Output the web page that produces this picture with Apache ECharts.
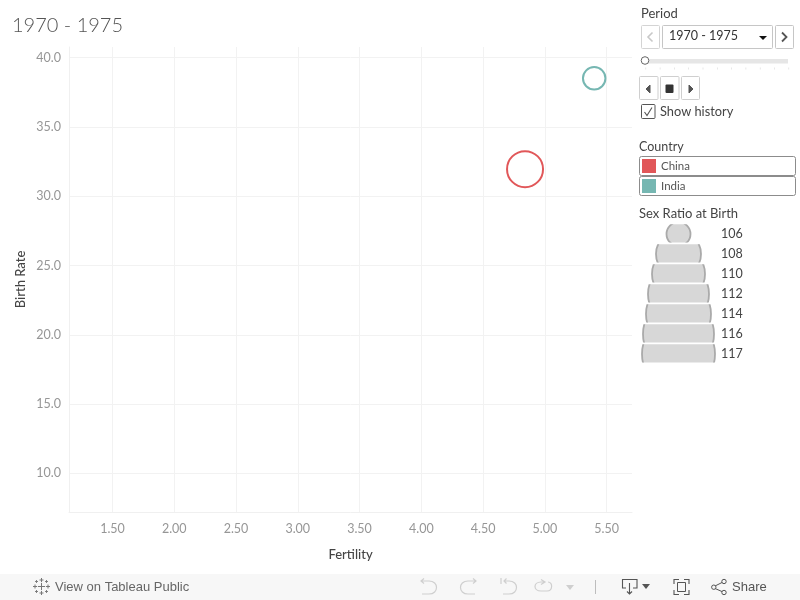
<!DOCTYPE html>
<html><head><meta charset="utf-8">
<style>html,body{margin:0;padding:0;background:#fff}#c{width:800px;height:600px}</style>
<script src="https://cdn.jsdelivr.net/npm/echarts@6/dist/echarts.min.js"></script>
</head><body><div id="c"></div>
<script>
const title = '1970 - 1975';
const countries = ['China', 'India'];
const fertility = [4.84, 5.40];
const birthRate = [31.95, 38.5];
const sexRatioLevels = ['106', '108', '110', '112', '114', '116', '117'];
const xTicks = [1.5, 2, 2.5, 3, 3.5, 4, 4.5, 5, 5.5];
const yTicks = [10, 15, 20, 25, 30, 35, 40];

const colors = ['#e15759', '#76b7b2'];
const markSizes = [36, 22.5];
const legendSizes = [24, 45, 53, 61, 65, 71, 73];
const F = 'Lato, "Open Sans", sans-serif';
const FF = '"Liberation Sans", Arial, sans-serif';

const chart = echarts.init(document.getElementById('c'), null, {renderer: 'canvas', width: 800, height: 600});

const grids = [{left: 69, right: 168, top: 47, bottom: 88}, {left: 630, width: 97, top: 224, height: 140}];
const xAxes = [{
  type: 'value', min: 1.148, max: 5.706, name: 'Fertility', nameLocation: 'middle', nameGap: 36,
  nameTextStyle: {fontFamily: F, fontSize: 13, color: '#444', fontWeight: 500},
  axisLine: {show: true, lineStyle: {color: '#f0f0f0'}},
  axisTick: {show: false, customValues: xTicks},
  axisLabel: {customValues: xTicks, color: '#969696', fontFamily: F, fontSize: 12.5, margin: 10, formatter: v => v.toFixed(2)},
  splitLine: {show: true, lineStyle: {color: '#f2f2f2', width: 1}}
}, {type: 'value', gridIndex: 1, min: -1, max: 1, show: false}];
const yAxes = [{
  type: 'value', min: 7.22, max: 40.76, name: 'Birth Rate', nameLocation: 'middle', nameGap: 42, nameMoveOverlap: false,
  nameTextStyle: {fontFamily: F, fontSize: 13, color: '#444', fontWeight: 500},
  axisLine: {show: true, lineStyle: {color: '#f0f0f0'}},
  axisTick: {show: false, customValues: yTicks},
  axisLabel: {customValues: yTicks, color: '#969696', fontFamily: F, fontSize: 12.5, margin: 8, formatter: v => v.toFixed(1)},
  splitLine: {show: true, lineStyle: {color: '#f2f2f2', width: 1}}
}, {type: 'category', gridIndex: 1, inverse: true, data: sexRatioLevels, show: false}];
const series = [{
  type: 'scatter', xAxisIndex: 0, yAxisIndex: 0,
  data: countries.map((c, i) => ({
    name: c, value: [fertility[i], birthRate[i]], symbolSize: markSizes[i],
    itemStyle: {color: 'rgba(0,0,0,0)', borderColor: colors[i], borderWidth: 2, opacity: 1}
  }))
}, {
  // Size legend: circles cropped to their legend row
  type: 'custom', xAxisIndex: 1, yAxisIndex: 1, silent: true, clip: false,
  data: sexRatioLevels.map(lv => [0, lv]),
  renderItem: (params, api) => {
    const [cx, cy] = api.coord([0, sexRatioLevels[params.dataIndex]]);
    const r = legendSizes[params.dataIndex] / 2;
    return {
      type: 'circle',
      shape: {cx, cy, r},
      style: {fill: '#d7d7d7', stroke: '#aaaaaa', lineWidth: 1.8},
      clipPath: {type: 'rect', shape: {x: cx - 60, y: cy - 9.8, width: 120, height: 18.4}}
    };
  }
}];

const g = [];
let pathCount = 0;
const txt = (x, y, s, o = {}) => g.push({type: 'text', x, y, silent: true, style: Object.assign({
  text: s, fontFamily: F, fontSize: 12, fill: '#444', verticalAlign: 'middle'}, o)});
const box = (x, y, w, h, o = {}) => g.push({type: 'rect', silent: true, shape: {x, y, width: w, height: h, r: o.r === undefined ? 1 : o.r},
  style: {fill: o.fill || '#fff', stroke: o.stroke === undefined ? '#cfcfcf' : o.stroke, lineWidth: o.lw || 1}});
const path = (d, o = {}) => {
  const name = 'icon' + (pathCount++);
  echarts.graphic.registerShape(name, echarts.graphic.extendPath(d, {}));
  g.push({type: name, silent: true,
    style: {fill: o.fill || 'none', stroke: o.stroke === undefined ? '#666' : o.stroke, lineWidth: o.lw || 1}});
};

txt(12, 26, title, {fontSize: 20, fill: '#555', fontWeight: 300, fontFamily: F});

// Period filter
txt(641, 14, 'Period', {fontSize: 13, fill: '#444'});
box(641.5, 25.5, 18, 23, {stroke: '#d4d4d4'});
path('M652.5 32.5 L648 37 L652.5 41.5', {stroke: '#c8c8c8', lw: 1.6});
box(662.5, 25.5, 110, 23, {stroke: '#c6c6c6'});
txt(669, 35.5, title, {fontSize: 12.5, fill: '#333'});
path('M759 36 L767 36 L763 40 Z', {fill: '#111', stroke: null});
box(775.5, 25.5, 18, 23, {stroke: '#c6c6c6'});
path('M782 32.5 L786.5 37 L782 41.5', {stroke: '#555', lw: 1.8});

box(645, 59, 143, 4.5, {fill: '#e6e6e6', stroke: null, r: 0});
for (let i = 0; i < 11; i++) box(645.5 + i * 14.3, 67.5, 0.6, 2, {fill: '#d8d8d8', stroke: null, r: 0});
g.push({type: 'circle', silent: true, shape: {cx: 645, cy: 60.5, r: 3.8}, style: {fill: '#fff', stroke: '#666', lineWidth: 1}});

box(639.5, 76.5, 18.5, 23);
path('M650 85 L650 93 L646 89 Z', {fill: '#555', stroke: '#555'});
box(660.5, 76.5, 18.5, 23);
box(665.5, 84.5, 8, 8.5, {fill: '#333', stroke: null, r: 1});
box(681.5, 76.5, 18, 23);
path('M689 85 L689 93 L693 89 Z', {fill: '#555', stroke: '#555'});

box(641.5, 104.5, 13.5, 14, {stroke: '#555', r: 1});
path('M644.5 112 L647 115.5 L652 107.5', {stroke: '#555', lw: 1.1});
txt(660, 112, 'Show history', {fontSize: 12.8, fill: '#444'});

// Colour legend
txt(639, 147, 'Country', {fontSize: 12.5, fill: '#444'});
countries.forEach((c, i) => {
  const y = 156.5 + i * 20;
  box(639.5, y, 156, 19, {stroke: '#8c8c8c', r: 2});
  box(642, y + 2.5, 14, 14, {fill: colors[i], stroke: null, r: 0});
  txt(661, y + 10, c, {fontSize: 11.5, fill: '#555', letterSpacing: 0.8});
});

// Size legend
txt(639, 214, 'Sex Ratio at Birth', {fontSize: 13, fill: '#444'});
sexRatioLevels.forEach((lv, i) => txt(721, 234 + i * 20, lv, {fontSize: 12.5, fill: '#444'}));

// Footer toolbar
box(0, 574, 800, 26, {fill: '#f7f7f7', stroke: null, r: 0});
let logo = '';
[[41.5, 586.5, 3.6], [35, 586.5, 2], [48, 586.5, 2], [41.5, 580, 2], [41.5, 593, 2], [36.5, 581.5, 1.4], [46.5, 581.5, 1.4], [36.5, 591.5, 1.4], [46.5, 591.5, 1.4]].forEach(([x, y, r]) => {
  logo += `M${x - r} ${y} L${x + r} ${y} M${x} ${y - r} L${x} ${y + r} `;
});
path(logo, {stroke: '#777', lw: 1});
txt(55, 587, 'View on Tableau Public', {fontFamily: FF, fontSize: 13, fill: '#666'});
const off = {stroke: '#cfcfcf', lw: 1.2};
path('M421 581 L429 581 C439 581 439 594 429 594 L422 594 M424 578.5 L421 581 L424 583.5', off);
path('M476 581 L468 581 C458 581 458 594 468 594 L475 594 M473 578.5 L476 581 L473 583.5', off);
path('M501 578 L501 584 M504 581 L509 581 C519 581 519 594 509 594 L503 594 M506.5 578.5 L504 581 L506.5 583.5', off);
path('M545 582 L541 582 C533 582 533 591 541 591 L547 591 C553 591 553 582 548 582 M541 579.5 L545 582 L541 584.5', off);
path('M566 585 L574 585 L570 590 Z', {fill: '#cfcfcf', stroke: null});
path('M595.5 580 L595.5 594', {stroke: '#bdbdbd', lw: 1});
path('M626 588 L622.5 588 L622.5 579.5 L637 579.5 L637 588 L633 588 M629.5 583 L629.5 594 M627 591.5 L629.5 594 L632 591.5', {stroke: '#555', lw: 1.1});
path('M642 584 L650 584 L646 589 Z', {fill: '#555', stroke: null});
path('M674 584 L674 579.5 L679 579.5 M684 579.5 L689 579.5 L689 584 M689 590 L689 594.5 L684 594.5 M679 594.5 L674 594.5 L674 590', {stroke: '#555', lw: 1.1});
box(677.5, 582.5, 8, 9, {fill: 'none', stroke: '#555', r: 0});
path('M714 586.5 L723 582 M714 588 L723 592', {stroke: '#555', lw: 1});
[[713.8, 587.2, 2.2], [724, 581.5, 2.2], [724, 592.5, 2.2]].forEach(([cx, cy, r]) => g.push({type: 'circle', silent: true, shape: {cx, cy, r}, style: {fill: '#f7f7f7', stroke: '#555', lineWidth: 1}}));
txt(732, 587, 'Share', {fontFamily: FF, fontSize: 13, fill: '#555', fontWeight: 500});

chart.setOption({
  animation: false,
  backgroundColor: '#fff',
  grid: grids, xAxis: xAxes, yAxis: yAxes, series,
  graphic: {elements: g}
});
</script></body></html>
